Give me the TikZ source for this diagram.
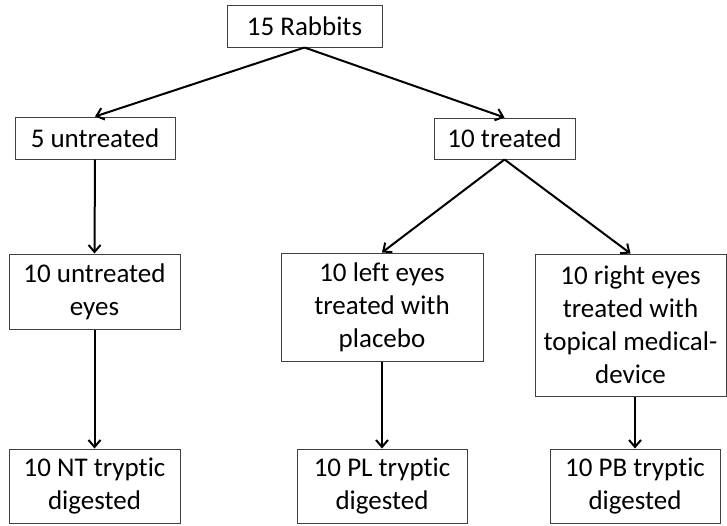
\documentclass[tikz,border=0pt]{standalone}
\usepackage{fontspec}
\setmainfont[Ligatures={NoCommon}]{Carlito}
\usetikzlibrary{arrows.meta}

\begin{document}
\begin{tikzpicture}[x=1pt,y=-1pt,
  box/.style={draw=black!75,line width=1pt,align=center,inner sep=0pt,
    font=\fontsize{27}{33}\selectfont},
  flow/.style={-{Straight Barb[length=7pt,width=12pt]},line width=2pt}]

  \useasboundingbox (0,0) rectangle (727,525);

  % Top levels
  \node[box,minimum width=155,minimum height=42] (rabbits) at (304.5,26) {15 Rabbits};
  \node[box,minimum width=160,minimum height=42] (untreated) at (95,138) {5 untreated};
  \node[box,minimum width=141,minimum height=41] (treated) at (504.5,138.5) {10 treated};

  % Eyes
  \node[box,minimum width=171,minimum height=75] (ueyes) at (94.5,291.5) {10 untreated\\eyes};
  \node[box,minimum width=202,minimum height=108] (leyes) at (382,307) {10 left eyes\\treated with\\placebo};
  \node[box,minimum width=191,minimum height=142] (reyes) at (630.5,325) {10 right eyes\\treated with\\topical medical-\\device};

  % Digests
  \node[box,minimum width=171,minimum height=74] (nt) at (94.5,486) {10 NT tryptic\\digested};
  \node[box,minimum width=170,minimum height=74] (pl) at (382,486) {10 PL tryptic\\digested};
  \node[box,minimum width=170,minimum height=74] (pb) at (635,486) {10 PB tryptic\\digested};

  % Splits
  \draw[flow] (rabbits.south) -- (untreated.north);
  \draw[flow] (rabbits.south) -- (treated.north);
  \draw[flow] (treated.south) -- (leyes.north);
  \draw[flow] (treated.south) -- (reyes.north);

  % Vertical flows
  \draw[flow] (untreated.south) -- (ueyes.north);
  \foreach \a/\b in {ueyes/nt, leyes/pl, reyes/pb}
      {\draw[flow] (\b.north |- \a.south) -- (\b.north);}

\end{tikzpicture}
\end{document}
